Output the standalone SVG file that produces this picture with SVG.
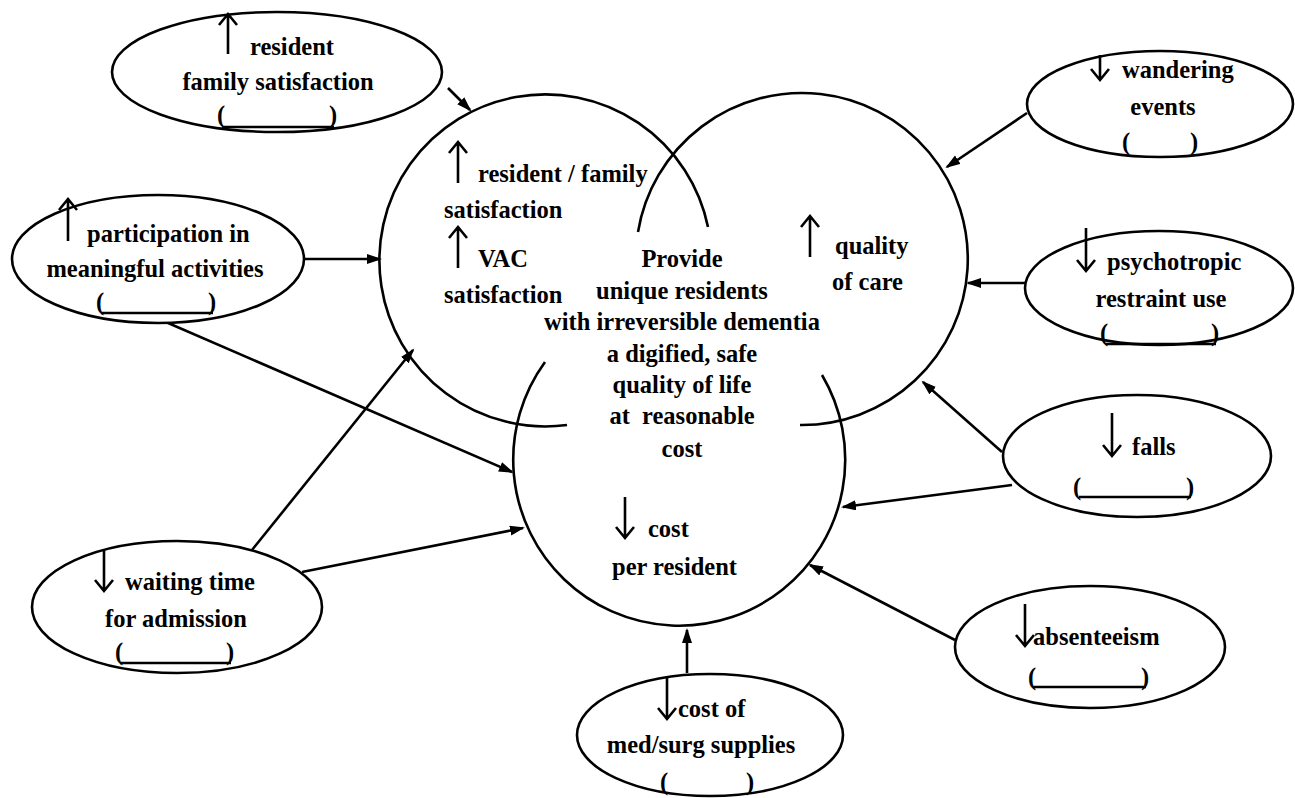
<svg xmlns="http://www.w3.org/2000/svg" width="1295" height="798" viewBox="0 0 1295 798">
  <style>
    .bg { fill: #ffffff; }
    .ring { fill: none; stroke: #000; stroke-width: 2.6; }
    .node { fill: #fff; stroke: #000; stroke-width: 2.6; }
    .t { font-family: "Liberation Serif", "Times New Roman", serif; font-weight: bold; font-size: 24.5px; fill: #000; }
    .mid { text-anchor: middle; }
    .pre { white-space: pre; }
    .ind { fill: none; stroke: #000; stroke-width: 2.6; stroke-linecap: butt; stroke-linejoin: miter; }
    .ul { stroke: #000; stroke-width: 2.4; }
    .edge { fill: none; stroke: #000; stroke-width: 2.6; }
  </style>
  <defs>
    <marker id="head" markerUnits="userSpaceOnUse" markerWidth="16" markerHeight="12" refX="13" refY="5" orient="auto">
      <path d="M0,0 L15,5 L0,10 z" fill="#000"/>
    </marker>
  </defs>

  <rect class="bg" x="0" y="0" width="1295" height="798"/>

  <!-- three overlapping goal circles, each drawn as an open arc -->
  <g id="goal-circles">
    <path class="ring" d="M 708 227 A 166 166 0 1 0 567 425"/>
    <path class="ring" d="M 638 232 A 166 166 0 1 1 800 425"/>
    <path class="ring" d="M 545 362 A 166 166 0 1 0 822 375"/>
  </g>

  <!-- texts inside the circles -->
  <g id="circle-left">
    <path class="ind" d="M458 183 V142 M449 153 L458 142 L467 153"/>
    <text class="t" x="478" y="182">resident / family</text>
    <text class="t" x="444" y="218">satisfaction</text>
    <path class="ind" d="M458 268 V227 M449 238 L458 227 L467 238"/>
    <text class="t" x="478" y="267">VAC</text>
    <text class="t" x="444" y="303">satisfaction</text>
  </g>
  <g id="circle-right">
    <path class="ind" d="M810 257 V216 M801 227 L810 216 L819 227"/>
    <text class="t" x="835" y="254">quality</text>
    <text class="t" x="832" y="290">of care</text>
  </g>
  <g id="circle-bottom">
    <path class="ind" d="M625 497 V538 M616 527 L625 538 L634 527"/>
    <text class="t" x="648" y="537">cost</text>
    <text class="t" x="612" y="575">per resident</text>
  </g>
  <g id="mission">
    <text class="t mid" x="682" y="267">Provide</text>
    <text class="t mid" x="682" y="299">unique residents</text>
    <text class="t mid" x="682" y="330">with irreversible dementia</text>
    <text class="t mid" x="682" y="362">a digified, safe</text>
    <text class="t mid" x="682" y="393">quality of life</text>
    <text class="t mid pre" x="682" y="424">at  reasonable</text>
    <text class="t mid" x="682" y="457">cost</text>
  </g>

  <!-- connectors -->
  <g id="connectors">
    <line class="edge" x1="448" y1="88" x2="470" y2="110" marker-end="url(#head)"/>
    <line class="edge" x1="304" y1="259" x2="380" y2="259" marker-end="url(#head)"/>
    <line class="edge" x1="145" y1="313" x2="512" y2="472" marker-end="url(#head)"/>
    <line class="edge" x1="252" y1="550" x2="413" y2="350" marker-end="url(#head)"/>
    <line class="edge" x1="302" y1="572" x2="523" y2="528" marker-end="url(#head)"/>
    <line class="edge" x1="687" y1="673" x2="687" y2="630" marker-end="url(#head)"/>
    <line class="edge" x1="955" y1="640" x2="810" y2="565" marker-end="url(#head)"/>
    <line class="edge" x1="1012" y1="485" x2="843" y2="507" marker-end="url(#head)"/>
    <line class="edge" x1="1002" y1="452" x2="923" y2="382" marker-end="url(#head)"/>
    <line class="edge" x1="1025" y1="283" x2="968" y2="283" marker-end="url(#head)"/>
    <line class="edge" x1="1027" y1="113" x2="947" y2="167" marker-end="url(#head)"/>
  </g>

  <!-- indicator nodes -->
  <g id="node-resident-family">
    <ellipse class="node" cx="277" cy="72" rx="165" ry="60"/>
    <path class="ind" d="M228 54 V14 M219 25 L228 14 L237 25"/>
    <text class="t" x="250" y="55">resident</text>
    <text class="t mid" x="278" y="90">family satisfaction</text>
    <text class="t" x="217" y="123">(</text>
    <text class="t" x="329" y="123">)</text>
    <line class="ul" x1="222" y1="127" x2="334" y2="127"/>
  </g>

  <g id="node-participation">
    <ellipse class="node" cx="158" cy="259" rx="146" ry="64"/>
    <path class="ind" d="M68 241 V199 M59 210 L68 199 L77 210"/>
    <text class="t" x="87" y="242">participation in</text>
    <text class="t mid" x="155" y="277">meaningful activities</text>
    <text class="t" x="96" y="310">(</text>
    <text class="t" x="208" y="310">)</text>
    <line class="ul" x1="101" y1="313" x2="213" y2="313"/>
  </g>

  <g id="node-wandering">
    <ellipse class="node" cx="1160" cy="104" rx="133" ry="53"/>
    <path class="ind" d="M1100 55 V80 M1091 69 L1100 80 L1109 69"/>
    <text class="t" x="1122" y="78">wandering</text>
    <text class="t mid" x="1163" y="115">events</text>
    <text class="t" x="1122" y="150">(</text>
    <text class="t" x="1190" y="150">)</text>
  </g>

  <g id="node-psychotropic">
    <ellipse class="node" cx="1159" cy="288" rx="134" ry="57"/>
    <path class="ind" d="M1086 228 V271 M1077 260 L1086 271 L1095 260"/>
    <text class="t" x="1107" y="270">psychotropic</text>
    <text class="t mid" x="1161" y="307">restraint use</text>
    <text class="t" x="1100" y="341">(</text>
    <text class="t" x="1211" y="341">)</text>
    <line class="ul" x1="1106" y1="344" x2="1216" y2="344"/>
  </g>

  <g id="node-falls">
    <ellipse class="node" cx="1137" cy="456" rx="134" ry="61"/>
    <path class="ind" d="M1112 413 V456 M1103 445 L1112 456 L1121 445"/>
    <text class="t" x="1132" y="455">falls</text>
    <text class="t" x="1073" y="495">(</text>
    <text class="t" x="1186" y="495">)</text>
    <line class="ul" x1="1079" y1="497" x2="1191" y2="497"/>
  </g>

  <g id="node-waiting">
    <ellipse class="node" cx="177" cy="607" rx="145" ry="66"/>
    <path class="ind" d="M104 549 V591 M95 580 L104 591 L113 580"/>
    <text class="t" x="125" y="590">waiting time</text>
    <text class="t mid" x="176" y="627">for admission</text>
    <text class="t" x="115" y="660">(</text>
    <text class="t" x="226" y="660">)</text>
    <line class="ul" x1="120" y1="663" x2="231" y2="663"/>
  </g>

  <g id="node-med-surg">
    <ellipse class="node" cx="710" cy="735" rx="133" ry="61"/>
    <path class="ind" d="M667 676 V719 M658 708 L667 719 L676 708"/>
    <text class="t" x="678" y="717">cost of</text>
    <text class="t mid" x="701" y="753">med/surg supplies</text>
    <text class="t" x="660" y="790">(</text>
    <text class="t" x="746" y="790">)</text>
  </g>

  <g id="node-absenteeism">
    <ellipse class="node" cx="1090" cy="647" rx="135" ry="61"/>
    <path class="ind" d="M1025 604 V646 M1016 635 L1025 646 L1034 635"/>
    <text class="t" x="1033" y="645">absenteeism</text>
    <text class="t" x="1028" y="685">(</text>
    <text class="t" x="1141" y="685">)</text>
    <line class="ul" x1="1033" y1="687" x2="1146" y2="687"/>
  </g>
</svg>
